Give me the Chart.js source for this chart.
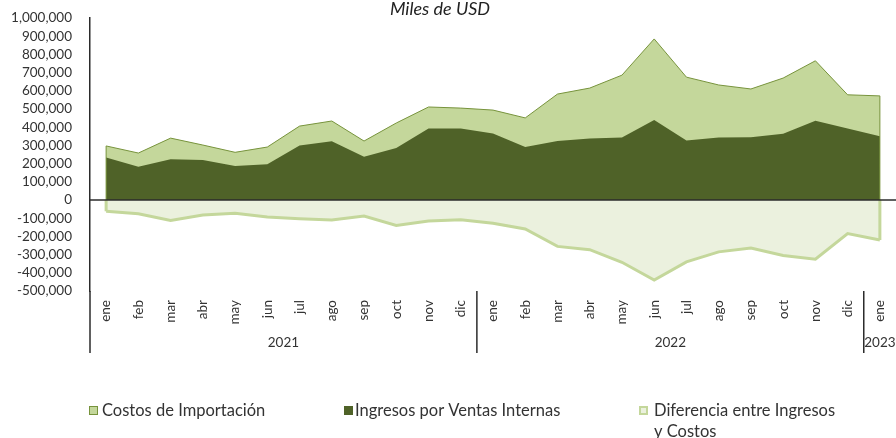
<!DOCTYPE html>
<html><head><meta charset="utf-8">
<script src="https://cdn.jsdelivr.net/npm/chart.js@4/dist/chart.umd.min.js"></script>
<style>html,body{margin:0;padding:0;background:#fff}#wrap{width:896px;height:438px;position:relative;overflow:hidden}canvas{display:block}</style>
</head><body><div id="wrap"><canvas id="c" width="896" height="438"></canvas></div>
<script>
const months = ['ene','feb','mar','abr','may','jun','jul','ago','sep','oct','nov','dic',
                'ene','feb','mar','abr','may','jun','jul','ago','sep','oct','nov','dic','ene'];
const yearLabels = ['2021','2022','2023'];
const monthsPerYear = [12,12,1];
const costos = [297000,258000,340000,302000,262000,291000,406000,434000,324000,423000,511000,505000,
                494000,451000,582000,615000,686000,885000,675000,632000,610000,670000,765000,578000,572000];
const ingresos = [234000,183000,224000,220000,187000,196000,300000,323000,238000,286000,393000,393000,
                  366000,291000,324000,338000,343000,440000,327000,343000,345000,364000,435000,393000,350000];
const diferencia = [-62000,-76000,-113000,-82000,-73000,-93000,-103000,-110000,-88000,-140000,-116000,-108000,
                    -128000,-159000,-255000,-273000,-342000,-440000,-340000,-285000,-264000,-305000,-325000,-184000,-220000];
const titleText = 'Miles de USD';
const yMin = -500000, yMax = 1000000, yStep = 100000;

const TXT = '#333333';
const FONT = 'Lato';
const TICK_SIZE = 13.5;

const extrasPlugin = {
  id: 'extras',
  afterDatasetsDraw(chart) {
    const ctx = chart.ctx, y = chart.scales.y, x = chart.scales.x, a = chart.chartArea;
    const z = y.getPixelForValue(0);
    ctx.save();
    chart.data.datasets.forEach(d => {
      if (!d.borderWidth || d.borderColor === d.backgroundColor) return;
      ctx.strokeStyle = d.borderColor;
      ctx.lineWidth = d.borderWidth;
      [0, d.data.length - 1].forEach(i => {
        const px = x.getPixelForValue(i);
        ctx.beginPath(); ctx.moveTo(px, z); ctx.lineTo(px, y.getPixelForValue(d.data[i])); ctx.stroke();
      });
    });
    ctx.strokeStyle = '#2b2b2b';
    ctx.lineWidth = 1.5;
    ctx.beginPath(); ctx.moveTo(a.left, z); ctx.lineTo(a.right, z); ctx.stroke();
    ctx.restore();
  },
  afterDraw(chart) {
    const ctx = chart.ctx, x = chart.scales.x, a = chart.chartArea;
    const w = x.getPixelForValue(1) - x.getPixelForValue(0);
    ctx.save();
    ctx.strokeStyle = '#2b2b2b';
    ctx.lineWidth = 1.5;
    let start = 0;
    ctx.font = TICK_SIZE + 'px ' + FONT;
    ctx.fillStyle = TXT;
    ctx.textAlign = 'center';
    ctx.textBaseline = 'middle';
    for (let i = 0; i < yearLabels.length; i++) {
      const x0 = x.getPixelForValue(start) - w / 2;
      const x1 = x.getPixelForValue(start + monthsPerYear[i] - 1) + w / 2;
      ctx.beginPath(); ctx.moveTo(x0, a.bottom); ctx.lineTo(x0, 353); ctx.stroke();
      ctx.fillText(yearLabels[i], (x0 + x1) / 2, 343);
      start += monthsPerYear[i];
    }
    ctx.font = 'italic 18px ' + FONT;
    ctx.fillStyle = '#222';
    ctx.textAlign = 'center';
    ctx.textBaseline = 'alphabetic';
    ctx.fillText(titleText, 440, 15);
    const ds = chart.data.datasets;
    const boxX = [89, 344, 639];
    const textX = [102, 355, 654];
    const maxWs = [240, 270, 184];
    ctx.font = '16.5px ' + FONT;
    ctx.textAlign = 'left';
    ctx.textBaseline = 'alphabetic';
    ds.forEach((d, k) => {
      const bx = boxX[k], by = 406, bs = 9;
      ctx.fillStyle = d.backgroundColor;
      ctx.fillRect(bx, by, bs, bs);
      if (d.borderWidth && d.borderColor !== d.backgroundColor) {
        ctx.strokeStyle = d.borderColor;
        ctx.lineWidth = Math.min(d.borderWidth, 2);
        const h = ctx.lineWidth / 2;
        ctx.strokeRect(bx + h, by + h, bs - 2 * h, bs - 2 * h);
      }
      ctx.fillStyle = TXT;
      const words = d.label.split(' ');
      let line = '';
      const lines = [];
      words.forEach(wd => {
        const t = line ? line + ' ' + wd : wd;
        if (ctx.measureText(t).width > maxWs[k] && line) { lines.push(line); line = wd; }
        else line = t;
      });
      lines.push(line);
      lines.forEach((ln, j) => ctx.fillText(ln, textX[k], 416 + j * 21));
    });
    ctx.restore();
  }
};

function draw() {
  Chart.defaults.font.family = FONT;
  Chart.defaults.color = TXT;
  new Chart(document.getElementById('c'), {
    type: 'line',
    data: {
      labels: months,
      datasets: [
        { label: 'Costos de Importación', data: costos, fill: 'origin',
          backgroundColor: '#c4d79b', borderColor: '#77933c', borderWidth: 1,
          pointRadius: 0, tension: 0, order: 3 },
        { label: 'Ingresos por Ventas Internas', data: ingresos, fill: 'origin',
          backgroundColor: '#4f6228', borderColor: '#4f6228', borderWidth: 0,
          pointRadius: 0, tension: 0, order: 2 },
        { label: 'Diferencia entre Ingresos y Costos', data: diferencia, fill: 'origin',
          backgroundColor: '#ebf1de', borderColor: '#c4d79b', borderWidth: 3,
          pointRadius: 0, tension: 0, order: 1 }
      ]
    },
    options: {
      responsive: false,
      animation: false,
      layout: { padding: { top: 18, left: 0, right: -2, bottom: 0 } },
      plugins: { legend: { display: false }, title: { display: false }, tooltip: { enabled: false } },
      scales: {
        x: {
          type: 'category',
          offset: true,
          grid: { display: false, drawTicks: false, offset: true },
          border: { display: false },
          ticks: { autoSkip: false, maxRotation: 90, minRotation: 90, padding: 9,
                   font: { size: TICK_SIZE }, color: TXT },
          afterFit(s) { s.height = 147; s.paddingLeft = 0; s.paddingRight = 0; }
        },
        y: {
          min: yMin, max: yMax,
          grid: { display: false, drawTicks: false },
          border: { display: true, color: '#2b2b2b', width: 1.5 },
          ticks: { stepSize: yStep, autoSkip: false, padding: 18, font: { size: TICK_SIZE }, color: TXT,
                   callback: v => v.toLocaleString('en-US') },
          afterFit(s) { s.width = 90; s.paddingTop = 0; s.paddingBottom = 0; }
        }
      }
    },
    plugins: [extrasPlugin]
  });
}
Promise.all([document.fonts.load('13.5px Lato'), document.fonts.load('italic 18px Lato'), document.fonts.load('16.5px Lato')])
  .then(draw, draw);
</script>
</body></html>
